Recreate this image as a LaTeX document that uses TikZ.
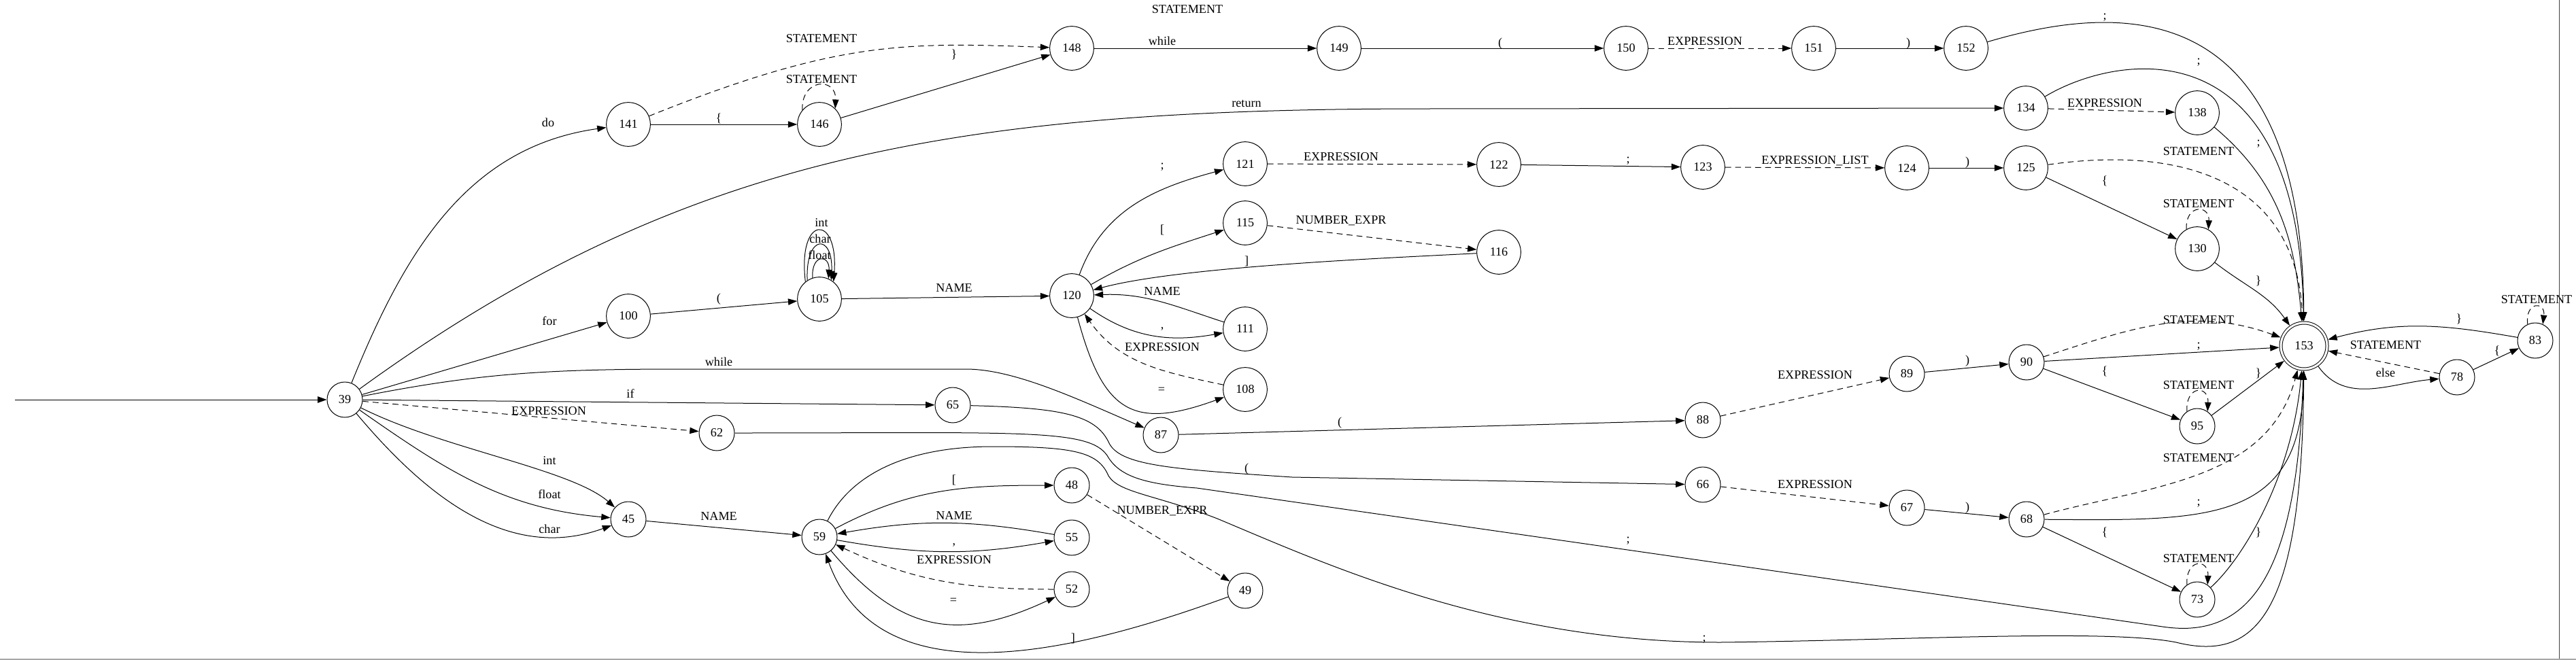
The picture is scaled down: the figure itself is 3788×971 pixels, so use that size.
\documentclass[tikz,border=0pt]{standalone}
\usepackage{fontspec}
\setmainfont{Liberation Serif}
\usetikzlibrary{arrows.meta}

\begin{document}
\begin{tikzpicture}[
  x=0.75pt, y=-0.75pt,
  font=\fontsize{13.6}{16}\selectfont,
  line width=0.75pt,
  sta/.style={draw, circle, inner sep=0pt, minimum size=39pt},
  staw/.style={sta, minimum size=48.5pt},
  acc/.style={sta, minimum size=51pt, double, double distance=2.25pt, outer sep=1.9pt},
  lab/.style={inner sep=0pt, text height=9.5pt, text depth=0pt},
  tr/.style={-{Triangle[length=10pt,width=7pt]}},
  nt/.style={tr, dash pattern=on 6.5pt off 4.5pt}
]
\useasboundingbox (0,0) rectangle (3788,971);

% states
\node[sta] (s39) at (507,588) {39};
\node[staw] (s141) at (924,183) {141};
\node[staw] (s146) at (1205,183) {146};
\node[staw] (s148) at (1576,71) {148};
\node[staw] (s149) at (1969,71) {149};
\node[staw] (s150) at (2391,71) {150};
\node[staw] (s151) at (2667,71) {151};
\node[staw] (s152) at (2891,71) {152};
\node[staw] (s134) at (2979,159) {134};
\node[staw] (s138) at (3231,166) {138};
\node[staw] (s100) at (924,465) {100};
\node[staw] (s105) at (1205,440) {105};
\node[staw] (s120) at (1576,435) {120};
\node[staw] (s121) at (1831,241) {121};
\node[staw] (s115) at (1831,328) {115};
\node[staw] (s116) at (2204,371) {116};
\node[staw] (s111) at (1831,484) {111};
\node[staw] (s108) at (1831,573) {108};
\node[staw] (s122) at (2204,242) {122};
\node[staw] (s123) at (2504,246) {123};
\node[staw] (s124) at (2804,247) {124};
\node[staw] (s125) at (2979,247) {125};
\node[staw] (s130) at (3231,366) {130};
\node[acc] (s153) at (3388,509) {153};
\node[sta] (s65) at (1401,596) {65};
\node[sta] (s62) at (1054,637) {62};
\node[sta] (s87) at (1707,640) {87};
\node[sta] (s88) at (2504,618) {88};
\node[sta] (s89) at (2804,550) {89};
\node[sta] (s90) at (2980,533) {90};
\node[sta] (s95) at (3231,627) {95};
\node[sta] (s66) at (2504,713) {66};
\node[sta] (s67) at (2804,747) {67};
\node[sta] (s68) at (2980,764) {68};
\node[sta] (s73) at (3231,882) {73};
\node[sta] (s45) at (924,764) {45};
\node[sta] (s59) at (1205,790) {59};
\node[sta] (s48) at (1576,714) {48};
\node[sta] (s55) at (1576,791) {55};
\node[sta] (s52) at (1576,867) {52};
\node[sta] (s49) at (1831,869) {49};
\node[sta] (s78) at (3613,555) {78};
\node[sta] (s83) at (3728,501) {83};

% start
\coordinate (start) at (22,588);
\draw[tr] (start) -- (s39);

% from 39
\draw[tr] (s39) to[out=68,in=188] (s141);
\draw[tr] (s39) .. controls (1000,230) and (1400,160) .. (2100,160) -- (s134);
\draw[tr] (s39) -- (s100);
\draw[tr] (s39) .. controls (700,550) and (800,543) .. (1000,543) -- (1420,543) .. controls (1490,543) and (1580,585) .. (s87);
\draw[tr] (s39) -- (s65);
\draw[nt] (s39) -- (s62);
\draw[tr] (s39) .. controls (650,660) and (840,690) .. (s45);
\draw[tr] (s39) to[out=-35,in=175] (s45);
\draw[tr] (s39) to[out=-50,in=200] (s45);

% do ... while
\draw[tr] (s141) -- (s146);
\draw[nt] (s141) .. controls (1230,60) and (1330,62) .. (s148);
\draw[nt] (s146.140) .. controls +(-2,-47) and +(2,-47) .. (s146.45);
\draw[tr] (s146) -- (s148);
\draw[tr] (s148) -- (s149);
\draw[tr] (s149) -- (s150);
\draw[nt] (s150) -- (s151);
\draw[tr] (s151) -- (s152);
\draw[tr] (s152) .. controls (3130,0) and (3385,0) .. (s153);

% for
\draw[tr] (s100) -- (s105);
\draw[tr] (s105.129) .. controls +(-12,-100) and +(8,-100) .. (s105.51);
\draw[tr] (s105.123) .. controls +(-3,-69) and +(3,-69) .. (s105.58);
\draw[tr] (s105.108) .. controls +(-2,-36) and +(2,-36) .. (s105.66);
\draw[tr] (s105) -- (s120);
\draw[tr] (s120) to[out=70,in=195] (s121);
\draw[tr] (s120) to[out=30,in=198] (s115);
\draw[nt] (s115) -- (s116);
\draw[tr] (s116) to[out=183,in=15,looseness=0.6] (s120);
\draw[tr] (s111) to[out=162,in=2] (s120);
\draw[tr] (s120) to[out=-35,in=190] (s111);
\draw[nt] (s108) to[out=168,in=-55] (s120);
\draw[tr] (s120) to[out=-75,in=200,looseness=1.5] (s108);
\draw[nt] (s121) -- (s122);
\draw[tr] (s122) -- (s123);
\draw[nt] (s123) -- (s124);
\draw[tr] (s124) -- (s125);
\draw[nt] (s125) .. controls (3200,215) and (3375,260) .. (s153);
\draw[tr] (s125) -- (s130);
\draw[nt] (s130.119) .. controls +(-2,-37) and +(2,-37) .. (s130.60);
\draw[tr] (s130) to[out=-38,in=125] (s153);

% return
\draw[nt] (s134) -- (s138);
\draw[tr] (s134) .. controls (3110,80) and (3380,30) .. (s153);
\draw[tr] (s138) to[out=-40,in=95] (s153);

% while
\draw[tr] (s87) -- (s88);
\draw[nt] (s88) -- (s89);
\draw[tr] (s89) -- (s90);
\draw[nt] (s90) to[out=18,in=160] (s153);
\draw[tr] (s90) -- (s153);
\draw[tr] (s90) -- (s95);
\draw[nt] (s95.125) .. controls +(-2,-39) and +(2,-39) .. (s95.55);
\draw[tr] (s95) -- (s153);

% if
\draw[tr] (s65) .. controls (1560,600) and (1610,610) .. (1630,650) .. controls (1645,685) and (1720,690) .. (1900,702) -- (s66);
\draw[nt] (s66) -- (s67);
\draw[tr] (s67) -- (s68);
\draw[nt] (s68) to[out=15,in=-105] (s153);
\draw[tr] (s68) .. controls (3250,766) and (3385,770) .. (s153);
\draw[tr] (s68) -- (s73);
\draw[nt] (s73.125) .. controls +(-2,-39) and +(2,-39) .. (s73.55);
\draw[tr] (s73) .. controls (3300,820) and (3370,700) .. (s153);

% expression
\draw[tr] (s62) .. controls (1500,637) and (1600,630) .. (1628,670) .. controls (1645,700) and (1680,712) .. (1760,718) -- (3180,922) .. controls (3300,940) and (3378,860) .. (s153);

% declaration
\draw[tr] (s45) -- (s59);
\draw[tr] (s59) to[out=28,in=180] (s48);
\draw[nt] (s48) -- (s49);
\draw[tr] (s49) to[out=200,in=-70] (s59);
\draw[tr] (s55) to[out=170,in=10] (s59);
\draw[tr] (s59) to[out=-10,in=190] (s55);
\draw[nt] (s52) to[out=180,in=-25] (s59);
\draw[tr] (s59) to[out=-50,in=205,looseness=1.2] (s52);
\draw[tr] (s59) .. controls (1250,700) and (1330,657) .. (1460,657) .. controls (1580,657) and (1615,665) .. (1630,700) .. controls (1645,725) and (1700,728) .. (1790,763) .. controls (1950,830) and (2200,945) .. (2530,945) .. controls (2800,942) and (3100,925) .. (3200,945) .. controls (3320,975) and (3385,900) .. (s153);

% else
\draw[tr] (s153) to[out=-55,in=185] (s78);
\draw[nt] (s78) -- (s153);
\draw[tr] (s78) -- (s83);
\draw[nt] (s83.115) .. controls +(-4,-34) and +(4,-34) .. (s83.65);
\draw[tr] (s83) to[out=170,in=15] (s153);

% labels
\node[lab] (l39x141) at (806,180) {do};
\node[lab] (l141x146) at (1057,173) {\{};
\node[lab] (l141x148) at (1208,56) {STATEMENT};
\node[lab] (l146x146) at (1208,116) {STATEMENT};
\node[lab] (l146x148) at (1403,79) {\}};
\node[lab] (l148x149) at (1709,60) {while};
\node[lab] (ltop) at (1746,13) {STATEMENT};
\node[lab] (l149x150) at (2206,62) {(};
\node[lab] (l150x151) at (2507,60) {EXPRESSION};
\node[lab] (l151x152) at (2806,62) {)};
\node[lab] (l152x153) at (3095,22) {;};
\node[lab] (l39x134) at (1833,151) {return};
\node[lab] (l134x138) at (3095,151) {EXPRESSION};
\node[lab] (l134x153) at (3233,88) {;};
\node[lab] (l138x153) at (3321,208) {;};
\node[lab] (l39x100) at (808,472) {for};
\node[lab] (l100x105) at (1057,438) {(};
\node[lab] (l105int) at (1208,327) {int};
\node[lab] (l105char) at (1206,351) {char};
\node[lab] (l105float) at (1205,375) {float};
\node[lab] (l105x120) at (1403,423) {NAME};
\node[lab] (l120x121) at (1709,242) {;};
\node[lab] (l120x115) at (1709,337) {[};
\node[lab] (l115x116) at (1972,323) {NUMBER\_EXPR};
\node[lab] (l116x120) at (1833,383) {]};
\node[lab] (l111x120) at (1709,428) {NAME};
\node[lab] (l120x111) at (1709,477) {,};
\node[lab] (l108x120) at (1709,510) {EXPRESSION};
\node[lab] (l120x108) at (1708,572) {=};
\node[lab] (l121x122) at (1972,230) {EXPRESSION};
\node[lab] (l122x123) at (2394,233) {;};
\node[lab] (l123x124) at (2669,235) {EXPRESSION\_LIST};
\node[lab] (l124x125) at (2893,237) {)};
\node[lab] (l125x153) at (3233,222) {STATEMENT};
\node[lab] (l125x130) at (3095,265) {\{};
\node[lab] (l130x130) at (3233,299) {STATEMENT};
\node[lab] (l130x153) at (3321,412) {\}};
\node[lab] (l39x87) at (1057,532) {while};
\node[lab] (l39x65) at (927,579) {if};
\node[lab] (l39x62) at (807,604) {EXPRESSION};
\node[lab] (l39x45a) at (808,677) {int};
\node[lab] (l39x45b) at (808,727) {float};
\node[lab] (l39x45c) at (808,778) {char};
\node[lab] (l45x59) at (1057,759) {NAME};
\node[lab] (l59x48) at (1403,705) {[};
\node[lab] (l55x59) at (1403,758) {NAME};
\node[lab] (l59x55) at (1403,795) {,};
\node[lab] (l52x59) at (1403,823) {EXPRESSION};
\node[lab] (l59x52) at (1402,882) {=};
\node[lab] (l49x59) at (1578,938) {]};
\node[lab] (l48x49) at (1709,750) {NUMBER\_EXPR};
\node[lab] (l87x88) at (1970,620) {(};
\node[lab] (l65x66) at (1833,688) {(};
\node[lab] (l62x153) at (2394,792) {;};
\node[lab] (l59x153) at (2506,937) {;};
\node[lab] (l88x89) at (2669,551) {EXPRESSION};
\node[lab] (l89x90) at (2893,529) {)};
\node[lab] (l66x67) at (2669,712) {EXPRESSION};
\node[lab] (l67x68) at (2893,745) {)};
\node[lab] (l90x153a) at (3233,470) {STATEMENT};
\node[lab] (l90x153b) at (3233,506) {;};
\node[lab] (l90x95) at (3095,545) {\{};
\node[lab] (l95x153) at (3321,548) {\}};
\node[lab] (l95x95) at (3233,566) {STATEMENT};
\node[lab] (l68x153a) at (3233,673) {STATEMENT};
\node[lab] (l68x153b) at (3233,737) {;};
\node[lab] (l68x73) at (3095,782) {\{};
\node[lab] (l73x153) at (3321,782) {\}};
\node[lab] (l73x73) at (3233,821) {STATEMENT};
\node[lab] (l153x78) at (3508,548) {else};
\node[lab] (l78x153) at (3508,507) {STATEMENT};
\node[lab] (l78x83) at (3672,515) {\{};
\node[lab] (l83x153) at (3616,468) {\}};
\node[lab] (l83x83) at (3730,440) {STATEMENT};

% page edges
\draw[black!75] (3763,0) -- (3763,971);
\draw[black!35, line width=1.5pt] (0,970) -- (3788,970);
\end{tikzpicture}
\end{document}
